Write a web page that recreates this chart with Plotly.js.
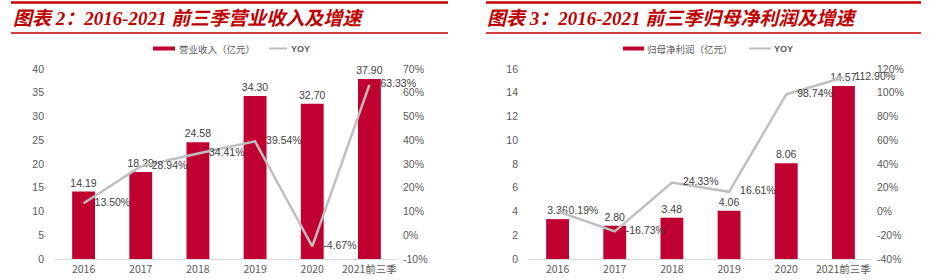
<!DOCTYPE html>
<html><head><meta charset="utf-8">
<script src="https://cdn.plot.ly/plotly-3.0.1.min.js"></script>
<style>html,body{margin:0;padding:0;background:#fff;} #chart{width:929px;height:280px;}</style>
</head><body><div id="chart"></div>
<script>
// ---- data ----
const categories = ['2016', '2017', '2018', '2019', '2020', '2021前三季'];
const revenue = [14.19, 18.29, 24.58, 34.30, 32.70, 37.90];
const revenueYoy = [13.50, 28.94, 34.41, 39.54, -4.67, 63.33];
const profit = [3.36, 2.80, 3.48, 4.06, 8.06, 14.57];
const profitYoy = [0.19, -16.73, 24.33, 16.61, 98.74, 112.90];

const revTickVals = [0, 5, 10, 15, 20, 25, 30, 35, 40];
const revYoyTickVals = [-10, 0, 10, 20, 30, 40, 50, 60, 70];
const revYoyTickText = ['-10%', '0%', '10%', '20%', '30%', '40%', '50%', '60%', '70%'];
const profTickVals = [0, 2, 4, 6, 8, 10, 12, 14, 16];
const profYoyTickVals = [-40, -20, 0, 20, 40, 60, 80, 100, 120];
const profYoyTickText = ['-40%', '-20%', '0%', '20%', '40%', '60%', '80%', '100%', '120%'];

const title1 = '图表 2：2016-2021 前三季营业收入及增速';
const title2 = '图表 3：2016-2021 前三季归母净利润及增速';
const legendBar1 = '营业收入（亿元）';
const legendBar2 = '归母净利润（亿元）';
const legendLine = 'YOY';

// ---- styling ----
const W = 929, H = 280;
const px = x => x / W;
const py = y => 1 - y / H;
const RED = '#C00030';
const TITLE_RED = '#C00000';
const GRAY_LINE = '#BFBFBF';
const TICK_COLOR = '#595959';
const LABEL_COLOR = '#404040';
const SANS = "'Liberation Sans', Arial, 'Noto Sans CJK SC', sans-serif";
const CJK = "'Noto Sans CJK SC', sans-serif";
const TITLE_FONT = "'Liberation Serif', 'Noto Sans CJK SC', serif";

const fmt2 = v => v.toFixed(2);
const fmtPct = v => v.toFixed(2) + '%';

function barTrace(y, xa, ya) {
  return {
    type: 'bar', x: categories, y: y, xaxis: xa, yaxis: ya,
    marker: {color: RED, line: {width: 0}},
    text: y.map(fmt2), textposition: 'outside', cliponaxis: false,
    constraintext: 'none',
    textfont: {family: SANS, size: 10.5, color: LABEL_COLOR},
    hoverinfo: 'skip', showlegend: false
  };
}
function lineTrace(y, xa, ya) {
  return {
    type: 'scatter', mode: 'lines+markers+text', x: categories, y: y, xaxis: xa, yaxis: ya,
    line: {color: GRAY_LINE, width: 2.5},
    marker: {size: 16, color: 'rgba(0,0,0,0)'},
    text: y.map(fmtPct), textposition: 'middle right', cliponaxis: false,
    textfont: {family: SANS, size: 10.5, color: LABEL_COLOR},
    hoverinfo: 'skip', showlegend: false
  };
}

const data = [
  barTrace(revenue, 'x', 'y'),
  lineTrace(revenueYoy, 'x', 'y2'),
  barTrace(profit, 'x2', 'y3'),
  lineTrace(profitYoy, 'x2', 'y4')
];

const yDom = [py(259), py(69)];
const tickFont = {family: SANS, size: 10.5, color: TICK_COLOR};
function xAxis(dom, anchor) {
  return {domain: dom, anchor: anchor, type: 'category', showline: true, linecolor: '#D9D9D9', linewidth: 1,
    ticks: '', showgrid: false, zeroline: false, tickfont: {family: CJK, size: 10.5, color: TICK_COLOR}, fixedrange: true};
}
function yLeft(anchor, range, vals) {
  return {domain: yDom, anchor: anchor, range: range, tickvals: vals, showgrid: false, zeroline: false,
    showline: false, ticks: '', tickfont: tickFont, ticklabelstandoff: 10, fixedrange: true};
}
function yRight(anchor, over, range, vals, text) {
  return {domain: yDom, anchor: anchor, overlaying: over, side: 'right', range: range, tickvals: vals, ticktext: text,
    showgrid: false, zeroline: false, showline: false, ticks: '', tickfont: tickFont, ticklabelstandoff: 4, fixedrange: true};
}

const shapes = [
  // title rules
  {type: 'line', xref: 'paper', yref: 'paper', x0: px(11), x1: px(448), y0: py(2.5), y1: py(2.5), line: {color: TITLE_RED, width: 2.5}},
  {type: 'line', xref: 'paper', yref: 'paper', x0: px(11), x1: px(448), y0: py(33), y1: py(33), line: {color: TITLE_RED, width: 1.5}},
  {type: 'line', xref: 'paper', yref: 'paper', x0: px(486), x1: px(921), y0: py(2.5), y1: py(2.5), line: {color: TITLE_RED, width: 2.5}},
  {type: 'line', xref: 'paper', yref: 'paper', x0: px(486), x1: px(921), y0: py(33), y1: py(33), line: {color: TITLE_RED, width: 1.5}},
  // legend symbols
  {type: 'rect', xref: 'paper', yref: 'paper', x0: px(153), x1: px(175), y0: py(50.5), y1: py(46.5), fillcolor: RED, line: {width: 0}},
  {type: 'line', xref: 'paper', yref: 'paper', x0: px(269), x1: px(287), y0: py(48.5), y1: py(48.5), line: {color: GRAY_LINE, width: 2}},
  {type: 'rect', xref: 'paper', yref: 'paper', x0: px(623), x1: px(644), y0: py(50.5), y1: py(46.5), fillcolor: RED, line: {width: 0}},
  {type: 'line', xref: 'paper', yref: 'paper', x0: px(749), x1: px(771), y0: py(48.5), y1: py(48.5), line: {color: GRAY_LINE, width: 2}}
];

function ann(text, x, y, font) {
  return {text: text, xref: 'paper', yref: 'paper', x: px(x), y: py(y), xanchor: 'left', yanchor: 'middle', showarrow: false, font: font};
}
const titleFont = {family: TITLE_FONT, size: 19, color: TITLE_RED, weight: 'bold', style: 'italic'};
const legFont = {family: CJK, size: 9.5, color: TICK_COLOR};
const legFontY = {family: SANS, size: 9, color: TICK_COLOR, weight: 'bold'};
const annotations = [
  ann(title1, 11, 18, titleFont),
  ann(title2, 485, 18, titleFont),
  ann(legendBar1, 177, 48.5, legFont),
  ann(legendLine, 289, 48.5, legFontY),
  ann(legendBar2, 645, 48.5, legFont),
  ann(legendLine, 772, 48.5, legFontY)
];

const layout = {
  width: W, height: H, margin: {l: 0, r: 0, t: 0, b: 0},
  paper_bgcolor: '#fff', plot_bgcolor: '#fff', showlegend: false, bargap: 0.6,
  xaxis: xAxis([px(55), px(398)], 'y'),
  yaxis: yLeft('x', [0, 40], revTickVals),
  yaxis2: yRight('x', 'y', [-10, 70], revYoyTickVals, revYoyTickText),
  xaxis2: xAxis([px(529), px(872)], 'y3'),
  yaxis3: yLeft('x2', [0, 16], profTickVals),
  yaxis4: yRight('x2', 'y3', [-40, 120], profYoyTickVals, profYoyTickText),
  shapes: shapes, annotations: annotations
};

Plotly.newPlot('chart', data, layout, {staticPlot: true, displayModeBar: false});
</script></body></html>
